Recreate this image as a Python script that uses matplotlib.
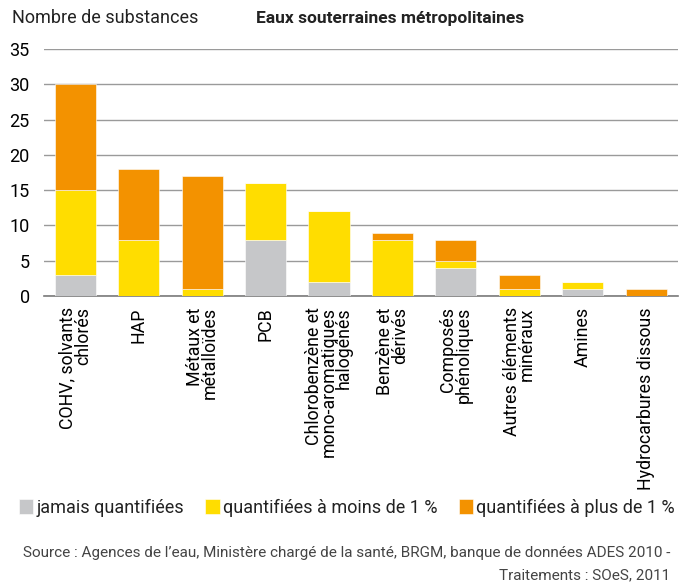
import matplotlib
matplotlib.use("Agg")
import matplotlib.pyplot as plt
from matplotlib import font_manager as fm
import numpy as np

categories = ["COHV, solvants\nchlorés", "HAP", "Métaux et\nmétalloïdes", "PCB",
              "Chlorobenzène et\nmono-aromatiques\nhalogénés", "Benzène et\ndérivés",
              "Composés\nphénoliques", "Autres éléments\nminéraux", "Amines",
              "Hydrocarbures dissous"]
jamais = [3, 0, 0, 8, 2, 0, 4, 0, 1, 0]
moins1 = [12, 8, 1, 8, 10, 8, 1, 1, 1, 0]
plus1 = [15, 10, 16, 0, 0, 1, 3, 2, 0, 1]
series_names = ["jamais quantifiées", "quantifiées à moins de 1 %", "quantifiées à plus de 1 %"]
yticks = [0, 5, 10, 15, 20, 25, 30, 35]

colors = ["#C6C7C9", "#FFDD00", "#F39200"]

avail = {f.name for f in fm.fontManager.ttflist}
fam = [f for f in ["Roboto", "DejaVu Sans"] if f in avail]
plt.rcParams['font.family'] = fam
plt.rcParams['text.color'] = '#222222'

fig = plt.figure(figsize=(6.91, 5.87), dpi=100)
ax = fig.add_axes([0.063, 0.4957, 0.918, 0.4208])

x = np.arange(len(categories))
w = 0.65
b1 = np.array(jamais)
b2 = b1 + np.array(moins1)
ax.bar(x, jamais, w, color=colors[0], label=series_names[0], zorder=3, edgecolor='white', linewidth=0.4)
ax.bar(x, moins1, w, bottom=b1, color=colors[1], label=series_names[1], zorder=3, edgecolor='white', linewidth=0.4)
ax.bar(x, plus1, w, bottom=b2, color=colors[2], label=series_names[2], zorder=3, edgecolor='white', linewidth=0.4)

ax.set_xlim(-0.5, len(categories) - 0.5)
ax.set_ylim(0, 35)
ax.set_yticks(yticks)
ax.yaxis.grid(True, color='#9a9a9a', linewidth=1.0, zorder=0)
ax.set_axisbelow(True)
for s in ['top', 'right', 'left']:
    ax.spines[s].set_visible(False)
ax.spines['bottom'].set_color('#7a7a7a')
ax.spines['bottom'].set_linewidth(1.2)
ax.tick_params(axis='y', length=0, pad=10, labelsize=13)
ax.tick_params(axis='x', length=0, pad=8)
ax.set_xticks(x)
ax.set_xticklabels(categories, rotation=90, ha='center', va='top', multialignment='right',
                   fontsize=12.8, linespacing=0.8)

fig.text(12/691, 1 - 18/587, "Nombre de substances", fontsize=13, va='center', ha='left')
fig.text(390/691, 1 - 18/587, "Eaux souterraines métropolitaines", fontsize=12.5, fontweight='bold',
         va='center', ha='center')

handles, labels = ax.get_legend_handles_labels()
leg = fig.legend(handles, labels, loc='center left', bbox_to_anchor=(19/691, 1 - 508/587), ncol=3,
                 frameon=False, fontsize=13, handlelength=0.8, handleheight=0.9,
                 handletextpad=0.15, columnspacing=1.2, borderaxespad=0, borderpad=0)

fig.text(670/691, 1 - 553/587, "Source : Agences de l’eau, Ministère chargé de la santé, BRGM, banque de données ADES 2010 -",
         fontsize=11, ha='right', va='center', color='#444444')
fig.text(670/691, 1 - 575/587, "Traitements : SOeS, 2011", fontsize=11, ha='right', va='center', color='#444444')

fig.savefig("out.png", dpi=100)
